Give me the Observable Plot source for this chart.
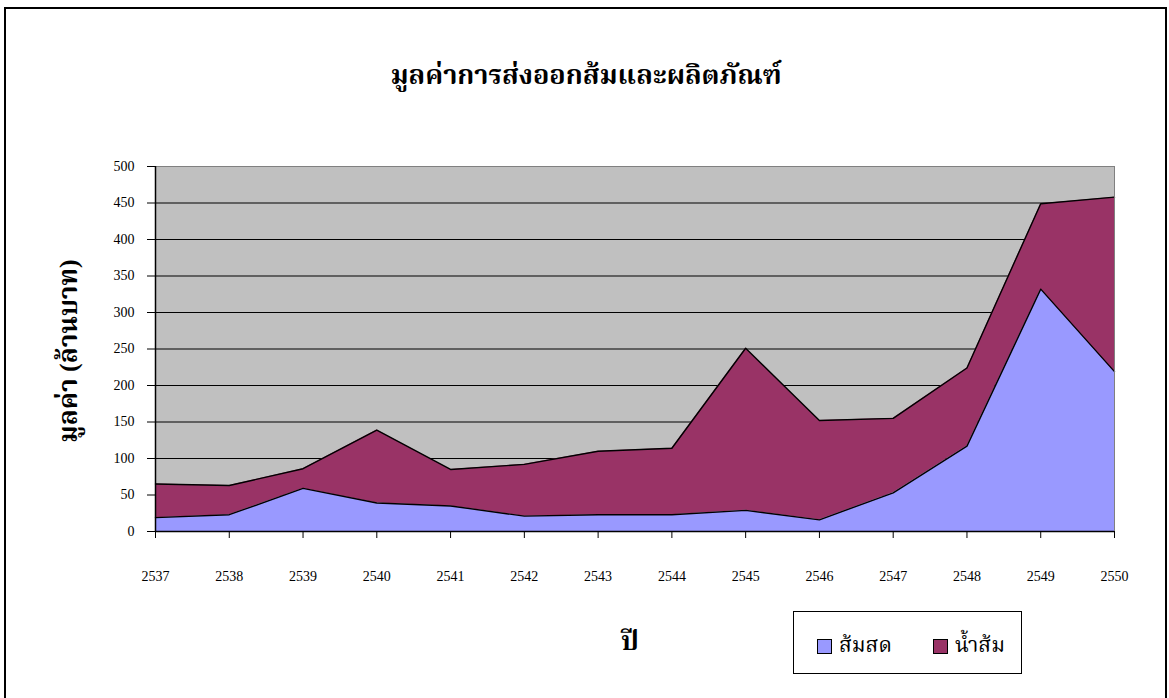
<!DOCTYPE html>
<html>
<head>
<meta charset="utf-8">
<script src="https://cdn.jsdelivr.net/npm/d3@7"></script>
<script src="https://cdn.jsdelivr.net/npm/@observablehq/plot@0.6"></script>
<style>
  html, body { margin: 0; padding: 0; background: #fff; width: 1169px; height: 698px; overflow: hidden; }
  #frame { position: absolute; left: 4px; top: 7px; width: 1163px; height: 700px; border: 2px solid #000; box-sizing: border-box; }
  #chart { position: absolute; left: 0; top: 0; }
  .txt { position: absolute; font-family: "Liberation Serif", "Noto Serif Thai", "Noto Sans Thai", serif; color: #000; white-space: nowrap; }
  #title { left: 0; width: 1172px; top: 55px; text-align: center; font-size: 27px; font-weight: bold; }
  #ylabel { left: 70px; top: 351px; transform: translate(-50%, -50%) rotate(-90deg); font-size: 26px; font-weight: bold; }
  #xlabel { left: 630px; top: 642px; transform: translate(-50%, -50%); font-size: 27px; font-weight: bold; }
  #legend { position: absolute; left: 793px; top: 611px; width: 229px; height: 63px; border: 1px solid #000; box-sizing: border-box; background: #fff; }
  .item { position: absolute; top: 18px; display: flex; align-items: center; font-family: "Liberation Serif", "Noto Serif Thai", "Noto Sans Thai", serif; font-size: 21px; }
  .sw { width: 13px; height: 13px; border: 1px solid #000; margin-right: 7px; }
</style>
</head>
<body>
<div id="frame"></div>
<div id="chart"></div>
<div id="title" class="txt">มูลค่าการส่งออกส้มและผลิตภัณฑ์</div>
<div id="ylabel" class="txt">มูลค่า (ล้านบาท)</div>
<div id="xlabel" class="txt">ปี</div>
<div id="legend"></div>
<script>
// ---- data ----
const years = [2537, 2538, 2539, 2540, 2541, 2542, 2543, 2544, 2545, 2546, 2547, 2548, 2549, 2550];
const seriesNames = ["ส้มสด", "น้ำส้ม"];
const freshOrange = [19, 23, 59, 39, 35, 21, 23, 23, 29, 16, 53, 117, 332, 219];
const orangeJuice = [46, 40, 27, 100, 50, 71, 87, 91, 222, 136, 102, 107, 117, 239];
const yTicks = [0, 50, 100, 150, 200, 250, 300, 350, 400, 450, 500];
const seriesColors = ["#9999FF", "#993366"];

const data = [];
years.forEach((y, i) => {
  data.push({year: y, series: seriesNames[0], value: freshOrange[i]});
  data.push({year: y, series: seriesNames[1], value: orangeJuice[i]});
});

const serif = "'Liberation Serif', 'Noto Serif Thai', serif";

const chart = Plot.plot({
  width: 1169,
  height: 698,
  marginLeft: 155,
  marginRight: 55,
  marginTop: 166,
  marginBottom: 167,
  style: { fontFamily: serif, fontSize: "14px", background: "transparent", color: "#000" },
  x: { type: "linear", domain: [2537, 2550] },
  y: { domain: [0, 500] },
  color: { domain: seriesNames, range: seriesColors },
  marks: [
    Plot.frame({ fill: "#C0C0C0", stroke: "none" }),
    Plot.ruleY(yTicks.slice(1), { stroke: "#000", strokeWidth: 1 }),
    Plot.areaY(data, { x: "year", y: "value", fill: "series", order: seriesNames, curve: "linear" }),
    Plot.lineY(data, Plot.stackY2({ x: "year", y: "value", z: "series", order: seriesNames, stroke: "#000", strokeWidth: 1.4 })),
    Plot.frame({ stroke: "#808080", strokeWidth: 1 }),
    Plot.ruleX([2537], { stroke: "#000", strokeWidth: 1.5 }),
    Plot.ruleY([0], { stroke: "#000", strokeWidth: 1.5 }),
    Plot.axisY({ ticks: yTicks, tickSize: 8, tickPadding: 13, label: null, tickFormat: d => String(d), fontSize: 14 }),
    Plot.axisX({ ticks: years, tickSize: 7, tickPadding: 33, label: null, tickFormat: d => String(d), fontSize: 14 })
  ]
});
document.getElementById("chart").appendChild(chart);

// legend
const legend = document.getElementById("legend");
const lx = [23, 139];
seriesNames.forEach((name, i) => {
  const item = document.createElement("div");
  item.className = "item";
  item.style.left = lx[i] + "px";
  const sw = document.createElement("div");
  sw.className = "sw";
  sw.style.background = seriesColors[i];
  const t = document.createElement("span");
  t.textContent = name;
  item.appendChild(sw);
  item.appendChild(t);
  legend.appendChild(item);
});
</script>
</body>
</html>
